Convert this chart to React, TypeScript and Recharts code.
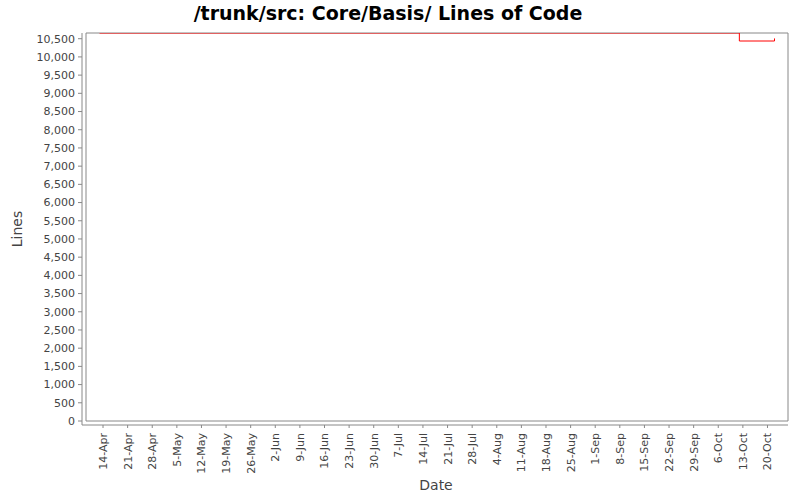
import React from "react";
import { LineChart, Line, XAxis, YAxis, ReferenceArea } from "recharts";

// commit dates and line counts
const commitDates = ["2008-04-13", "2008-10-12", "2008-10-22"];
const lineCounts = [10657, 10437, 10508];

// weekly tick labels on the date axis
const weekLabels = [
  "14-Apr", "21-Apr", "28-Apr", "5-May", "12-May", "19-May", "26-May",
  "2-Jun", "9-Jun", "16-Jun", "23-Jun", "30-Jun", "7-Jul", "14-Jul",
  "21-Jul", "28-Jul", "4-Aug", "11-Aug", "18-Aug", "25-Aug", "1-Sep",
  "8-Sep", "15-Sep", "22-Sep", "29-Sep", "6-Oct", "13-Oct", "20-Oct",
];

const yTicks = [
  0, 500, 1000, 1500, 2000, 2500, 3000, 3500, 4000, 4500, 5000,
  5500, 6000, 6500, 7000, 7500, 8000, 8500, 9000, 9500, 10000, 10500,
];

const DAY = 86400000;
const firstTick = Date.UTC(2008, 3, 14);
const dayOf = (iso: string) => {
  const [y, m, d] = iso.split("-").map(Number);
  return (Date.UTC(y, m - 1, d) - firstTick) / DAY;
};

const data = commitDates.map((d, i) => ({ day: dayOf(d), lines: lineCounts[i] }));
const xTicks = weekLabels.map((_, i) => i * 7);

// ~2% margin on each side of the data, like the original
const span = data[data.length - 1].day - data[0].day;
const xMin = data[0].day - span * 0.02;
const xMax = data[data.length - 1].day + span * 0.02;
const yMax = Math.max(...lineCounts);

const font = "'DejaVu Sans', sans-serif";
const axisGray = "#888888";
const labelGray = "#444444";

function DateTick(props: any) {
  const { x, y, payload } = props;
  const label = weekLabels[Math.round(payload.value / 7)] ?? "";
  const ty = y + 2;
  return (
    <text
      x={x}
      y={ty}
      transform={`rotate(-90, ${x}, ${ty})`}
      textAnchor="end"
      dy="0.36em"
      fontSize={11}
      fontFamily={font}
      fill={labelGray}
    >
      {label}
    </text>
  );
}

export default function App() {
  return (
    <div style={{ position: "absolute", left: 0, top: 0, width: 800, height: 500, background: "#fff" }}>
      <div
        style={{
          position: "absolute",
          left: 0,
          top: 4,
          width: 776,
          textAlign: "center",
          fontFamily: font,
          fontWeight: "bold",
          fontSize: 19,
          lineHeight: "19px",
          color: "#000",
          whiteSpace: "nowrap",
        }}
      >
        /trunk/src: Core/Basis/ Lines of Code
      </div>
      <div
        style={{
          position: "absolute",
          left: 17,
          top: 229,
          transform: "translate(-50%, -50%) rotate(-90deg)",
          fontFamily: font,
          fontSize: 14,
          color: labelGray,
          whiteSpace: "nowrap",
        }}
      >
        Lines
      </div>
      <div
        style={{
          position: "absolute",
          left: 436,
          top: 485,
          transform: "translate(-50%, -50%)",
          fontFamily: font,
          fontSize: 14,
          color: labelGray,
          whiteSpace: "nowrap",
        }}
      >
        Date
      </div>
      <LineChart
        width={800}
        height={500}
        data={data}
        margin={{ top: 33, right: 12, left: 0, bottom: 0 }}
      >
        <XAxis
          dataKey="day"
          type="number"
          domain={[xMin, xMax]}
          ticks={xTicks}
          interval={0}
          padding={{ left: 4, right: 0 }}
          height={75}
          tickSize={3}
          tickMargin={3}
          stroke={axisGray}
          tick={<DateTick />}
          allowDataOverflow
        />
        <YAxis
          type="number"
          domain={[0, yMax]}
          ticks={yTicks}
          interval={0}
          padding={{ top: 0, bottom: 4 }}
          width={82}
          tickSize={4}
          tickMargin={3}
          stroke={axisGray}
          tickFormatter={(v: number) => v.toLocaleString("en-US")}
          tick={{ fontSize: 11, fontFamily: font, fill: labelGray }}
          allowDataOverflow
        />
        <ReferenceArea
          x1={xMin}
          x2={xMax}
          y1={0}
          y2={yMax}
          fill="none"
          stroke={axisGray}
          strokeWidth={1}
          ifOverflow="visible"
        />
        <Line
          type="stepAfter"
          dataKey="lines"
          stroke="#ff0000"
          strokeWidth={1}
          dot={false}
          isAnimationActive={false}
        />
      </LineChart>
    </div>
  );
}
